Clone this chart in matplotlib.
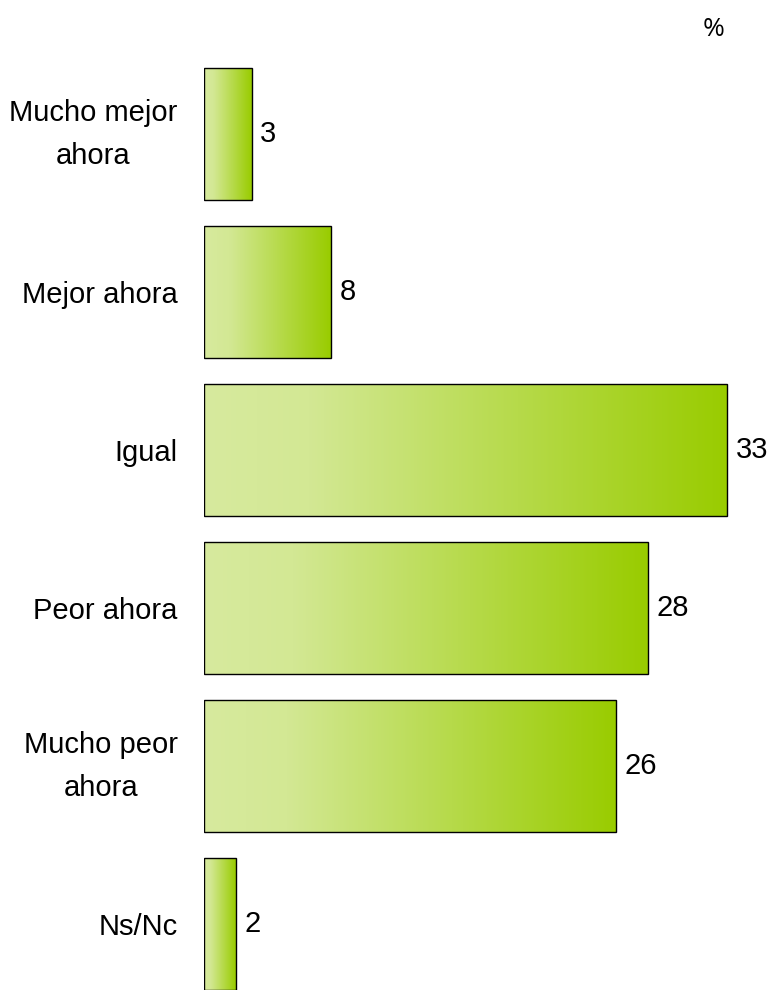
import numpy as np
import matplotlib.pyplot as plt
from matplotlib.colors import LinearSegmentedColormap

categories = ["Mucho mejor\nahora", "Mejor ahora", "Igual", "Peor ahora",
              "Mucho peor\nahora", "Ns/Nc"]
values = [3, 8, 33, 28, 26, 2]

plt.rcParams['font.family'] = ['Liberation Sans Narrow', 'Liberation Sans', 'DejaVu Sans']

fig = plt.figure(figsize=(7.69, 9.90), dpi=100)
ax = fig.add_axes([204 / 769, 0, 565 / 769, 1])

# light to darker green, left to right
cmap = LinearSegmentedColormap.from_list(
    "grn", [(0.0, "#d7ea9e"), (0.2, "#d3e894"), (1.0, "#99cc00")])
grad = np.linspace(0, 1, 256).reshape(1, -1)

y = np.arange(len(values))
bars = ax.barh(y, values, height=0.835, color="none", edgecolor="black", linewidth=1.0, zorder=3)
for b, v in zip(bars, values):
    x0, y0 = b.get_x(), b.get_y()
    w, h = b.get_width(), b.get_height()
    im = ax.imshow(grad, cmap=cmap, aspect="auto", extent=[x0, x0 + w, y0 + h, y0],
                   zorder=2, interpolation="bicubic")
    im.set_clip_path(b)
    ax.text(x0 + w + 0.55, y0 + h / 2, str(v), va="center", ha="left", fontsize=21)

ax.set_xlim(0, 565 / 15.85)
ax.set_ylim(5.415, -0.851)
ax.set_yticks(y)
ax.set_yticklabels(categories, fontsize=21, linespacing=1.65)
for lab in ax.get_yticklabels():
    lab.set_multialignment("center")
    if "\n" in lab.get_text():
        lab.set_verticalalignment("center")
ax.tick_params(axis="y", length=0, pad=19)
ax.set_xticks([])
for s in ax.spines.values():
    s.set_visible(False)

fig.text(714 / 769, 1 - 29 / 990, "%", ha="center", va="center", fontsize=19,
         family=["Open Sans", "DejaVu Sans"])

fig.savefig("out.png", dpi=100)
